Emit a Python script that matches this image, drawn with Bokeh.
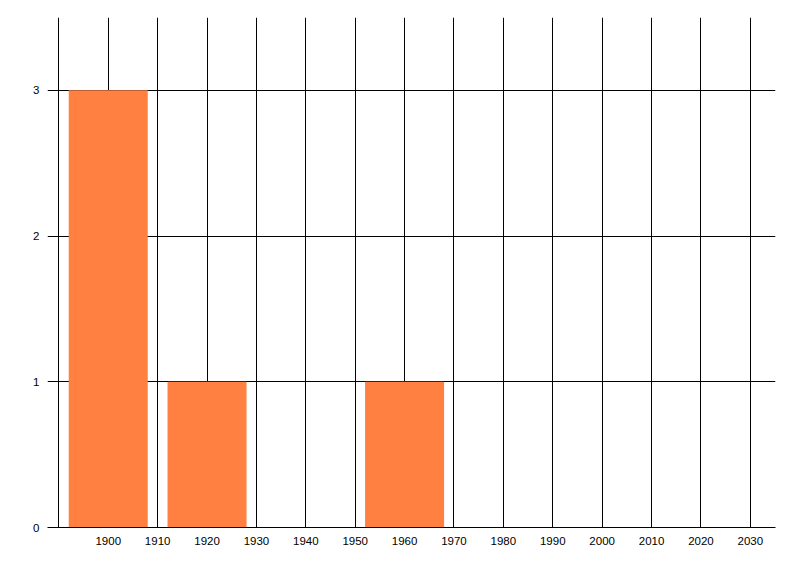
from bokeh.plotting import figure
from bokeh.models import Range1d, FixedTicker
from bokeh.embed import file_html
from bokeh.resources import INLINE

# data
years = [1900, 1920, 1960]
counts = [3, 1, 1]
bar_width = 16
x_ticks = list(range(1890, 2031, 10))
y_ticks = [0, 1, 2, 3]

p = figure(width=784, height=558, output_backend="svg", toolbar_location=None,
           x_range=Range1d(1887.7, 2035.1), y_range=Range1d(0, 3.5),
           min_border_left=47, min_border_right=9, min_border_top=17, min_border_bottom=31)
p.outline_line_color = None
p.background_fill_color = "white"
p.border_fill_color = "white"

p.vbar(x=years, top=counts, width=bar_width, bottom=0, color="#FF8040", line_color=None)

# x axis
p.xaxis.ticker = FixedTicker(ticks=x_ticks)
p.xaxis.major_label_overrides = {1890: ""}
p.xaxis.major_tick_line_color = None
p.xaxis.minor_tick_line_color = None
p.xaxis.axis_line_color = "black"
p.xaxis.axis_line_width = 1
p.xaxis.major_label_standoff = 3
p.xaxis.major_label_text_font = "Liberation Sans"
p.xaxis.major_label_text_font_size = "11.5px"
p.xaxis.major_label_text_color = "black"

# y axis
p.yaxis.ticker = FixedTicker(ticks=y_ticks)
p.yaxis.major_tick_line_color = None
p.yaxis.minor_tick_line_color = None
p.yaxis.axis_line_color = None
p.yaxis.major_label_standoff = 2
p.yaxis.major_label_text_font = "Liberation Sans"
p.yaxis.major_label_text_font_size = "11.5px"
p.yaxis.major_label_text_color = "black"

# grids
p.xgrid.ticker = FixedTicker(ticks=x_ticks)
p.xgrid.grid_line_color = "black"
p.xgrid.grid_line_width = 1
p.xgrid.grid_line_alpha = 1
p.ygrid.ticker = FixedTicker(ticks=y_ticks)
p.ygrid.grid_line_color = "black"
p.ygrid.grid_line_width = 1
p.ygrid.grid_line_alpha = 1

open("out.html", "w").write(file_html(p, INLINE))
